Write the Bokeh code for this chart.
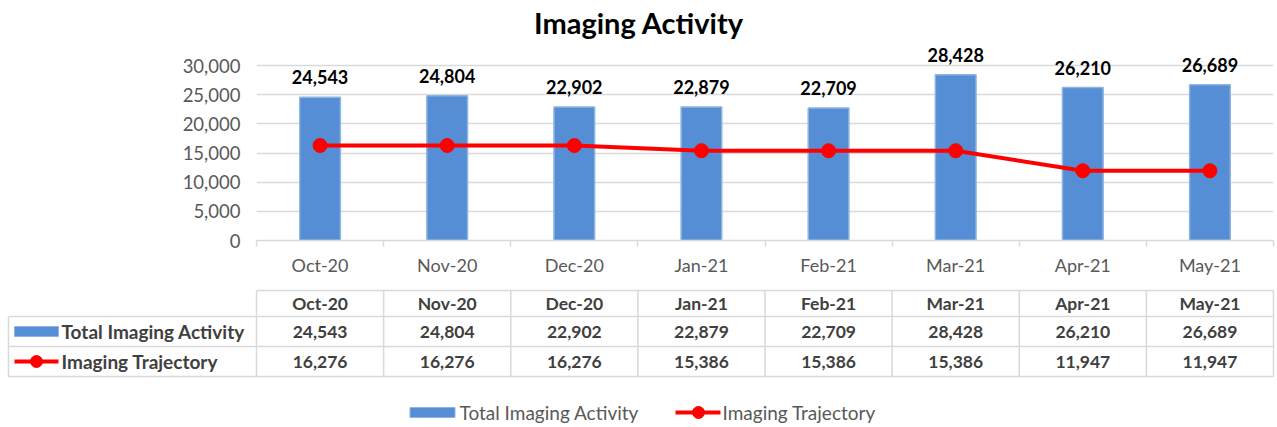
from bokeh.plotting import figure
from bokeh.models import Range1d, FixedTicker, NumeralTickFormatter, ColumnDataSource
from bokeh.core.properties import value
from bokeh.embed import file_html
from bokeh.resources import INLINE

# ---- data ----
months = ["Oct-20", "Nov-20", "Dec-20", "Jan-21", "Feb-21", "Mar-21", "Apr-21", "May-21"]
total_activity = [24543, 24804, 22902, 22879, 22709, 28428, 26210, 26689]
trajectory = [16276, 16276, 16276, 15386, 15386, 15386, 11947, 11947]
y_ticks = [0, 5000, 10000, 15000, 20000, 25000, 30000]
series_names = ["Total Imaging Activity", "Imaging Trajectory"]
title_text = "Imaging Activity"

FONT = "Lato"
BLUE = "#558ED5"
BLUE_EDGE = "#8EB4E3"
RED = "#FF0000"
GRID = "#D9D9D9"
TXT = "#404040"
AX_TXT = "#595959"

n = len(months)
xs = [i + 0.5 for i in range(n)]
fmt = lambda v: f"{v:,}"

FIG_W = 1277
LEFT = 256
RIGHT_PAD = 4
W = (FIG_W - LEFT - RIGHT_PAD) / n  # pixels per category

# ---- chart ----
CH_H = 282
FRAME_BOTTOM = 240      # pixel row of the value 0
TOP_TICK_PX = 65        # pixel row of the top tick
y_per_px = y_ticks[-1] / (FRAME_BOTTOM - TOP_TICK_PX)
p = figure(width=FIG_W, height=CH_H, x_range=Range1d(0, n),
           y_range=Range1d(0, FRAME_BOTTOM * y_per_px),
           output_backend="svg", toolbar_location=None,
           min_border_left=LEFT, min_border_right=RIGHT_PAD, min_border_top=0,
           min_border_bottom=CH_H - FRAME_BOTTOM)
p.outline_line_color = None

p.xgrid.grid_line_color = None
p.ygrid.grid_line_color = GRID
p.ygrid.grid_line_width = 1.5

p.yaxis.ticker = FixedTicker(ticks=y_ticks)
p.yaxis.formatter = NumeralTickFormatter(format="0,0")
p.yaxis.axis_line_color = None
p.yaxis.major_tick_line_color = None
p.yaxis.minor_tick_line_color = None
p.yaxis.major_tick_out = 0
p.yaxis.major_label_standoff = 16
p.yaxis.major_label_text_font = FONT
p.yaxis.major_label_text_font_size = "18.5px"
p.yaxis.major_label_text_color = AX_TXT

p.xaxis.ticker = FixedTicker(ticks=xs, minor_ticks=list(range(n + 1)))
p.xaxis.major_label_overrides = {x: m for x, m in zip(xs, months)}
p.xaxis.axis_line_color = GRID
p.xaxis.axis_line_width = 1.5
p.xaxis.major_tick_line_color = None
p.xaxis.major_tick_out = 0
p.xaxis.minor_tick_line_color = GRID
p.xaxis.minor_tick_line_width = 1.5
p.xaxis.minor_tick_in = 0
p.xaxis.minor_tick_out = 6
p.xaxis.major_label_standoff = 7
p.xaxis.major_label_text_font = FONT
p.xaxis.major_label_text_font_size = "18px"
p.xaxis.major_label_text_color = AX_TXT

src = ColumnDataSource(dict(x=xs, total=total_activity, traj=trajectory,
                            lbl=[fmt(v) for v in total_activity]))
p.vbar(x="x", top="total", width=0.32, source=src, fill_color=BLUE, line_color=BLUE_EDGE, line_width=1.5)
p.line(x="x", y="traj", source=src, line_color=RED, line_width=4)
p.scatter(x="x", y="traj", source=src, size=14, fill_color=RED, line_color=RED)
p.text(x="x", y="total", text="lbl", source=src, y_offset=-13,
       text_align="center", text_baseline="bottom", text_font=value(FONT),
       text_font_size="18px", text_font_style="bold", text_color="black")

# title (centred on the whole page)
p.text(x=[(FIG_W / 2 - LEFT) / W], y=[(FRAME_BOTTOM - 22) * y_per_px], text=[title_text],
       text_align="center", text_baseline="middle", text_font=value(FONT),
       text_font_size="29px", text_font_style="bold", text_color="black")

# ---- data table + legend ----
H2 = 145
x0 = -LEFT / W
x1 = n + RIGHT_PAD / W
t = figure(width=FIG_W, height=H2, x_range=Range1d(x0, x1), y_range=Range1d(H2, 0),
           x_axis_type=None, y_axis_type=None, output_backend="svg", toolbar_location=None,
           min_border_left=0, min_border_right=0, min_border_top=0, min_border_bottom=0)
t.outline_line_color = None
t.xgrid.visible = False
t.ygrid.visible = False

def px(xfig):
    return (xfig - LEFT) / W

row_top, row_h1, row_h2, row_bot = 8, 34, 64, 94
left_edge = px(8)
t.segment(x0=[0, left_edge, left_edge, left_edge], y0=[row_top, row_h1, row_h2, row_bot],
          x1=[n, n, n, n], y1=[row_top, row_h1, row_h2, row_bot], line_color=GRID, line_width=1.5)
t.segment(x0=list(range(n + 1)), y0=[row_top] * (n + 1), x1=list(range(n + 1)), y1=[row_bot] * (n + 1),
          line_color=GRID, line_width=1.5)
t.segment(x0=[left_edge], y0=[row_h1], x1=[left_edge], y1=[row_bot], line_color=GRID, line_width=1.5)

cell_font = dict(text_align="center", text_baseline="middle", text_font=value(FONT),
                 text_font_size="17.5px", text_font_style="bold", text_color=TXT)
t.text(x=xs, y=[(row_top + row_h1) / 2] * n, text=months, **cell_font)
t.text(x=xs, y=[(row_h1 + row_h2) / 2] * n, text=[fmt(v) for v in total_activity], **cell_font)
t.text(x=xs, y=[(row_h2 + row_bot) / 2] * n, text=[fmt(v) for v in trajectory], **cell_font)

r1 = (row_h1 + row_h2) / 2
r2 = (row_h2 + row_bot) / 2
t.rect(x=[px(36)], y=[r1], width=44 / W, height=10, fill_color=BLUE, line_color=BLUE_EDGE)
t.segment(x0=[px(14)], y0=[r2], x1=[px(58)], y1=[r2], line_color=RED, line_width=4)
t.scatter(x=[px(36)], y=[r2], size=12, fill_color=RED, line_color=RED)
t.text(x=[px(61), px(61)], y=[r1, r2], text=series_names, text_align="left", text_baseline="middle",
       text_font=value(FONT), text_font_size="19px", text_font_style="bold", text_color=TXT)

ly = 130
t.rect(x=[px(432)], y=[ly], width=45 / W, height=10, fill_color=BLUE, line_color=BLUE_EDGE)
t.segment(x0=[px(675)], y0=[ly], x1=[px(720)], y1=[ly], line_color=RED, line_width=4)
t.scatter(x=[px(698)], y=[ly], size=12, fill_color=RED, line_color=RED)
t.text(x=[px(459), px(722)], y=[ly, ly], text=series_names, text_align="left", text_baseline="middle",
       text_font=value(FONT), text_font_size="19px", text_color=AX_TXT)

open("out.html", "w").write(file_html([p, t], INLINE))
